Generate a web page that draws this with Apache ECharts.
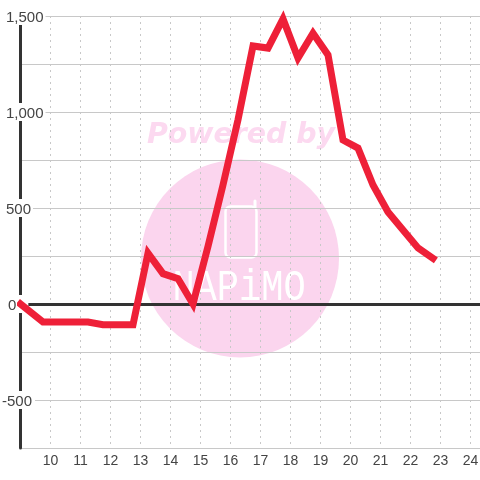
<!DOCTYPE html>
<html>
<head>
<meta charset="utf-8">
<style>html,body{margin:0;padding:0;background:#fff}#c{width:480px;height:480px}</style>
<script src="https://cdn.jsdelivr.net/npm/echarts@6/dist/echarts.min.js"></script>
</head>
<body>
<div id="c"></div>
<script>
var hours = [9, 9.75, 11.25, 11.75, 12.75, 13.25, 13.75, 14.25, 14.75, 15.25, 15.75, 16.25, 16.75, 17.25, 17.75, 18.25, 18.75, 19.25, 19.75, 20.25, 20.75, 21.25, 21.75, 22.25, 22.75];
var values = [0, -94, -94, -108, -108, 265, 158, 132, 0, 300, 620, 960, 1344, 1333, 1485, 1281, 1410, 1297, 854, 812, 620, 479, 385, 292, 238];
var xTickLabels = [10, 11, 12, 13, 14, 15, 16, 17, 18, 19, 20, 21, 22, 23, 24];
var yTickLabels = { '1500': '1,500', '1000': '1,000', '500': '500', '0': '0', '-500': '-500' };

var chart = echarts.init(document.getElementById('c'), null, { renderer: 'canvas' });
var font = '"Liberation Sans", Arial, sans-serif';
var wm = '#fbd5ee';
var xMin = 9, xMax = 24.3333;

function styleFor(v) {
  if (v === 0) return 'z';
  if (v < 0) return 'n';
  return 'h';
}
var richBase = { color: '#444', fontSize: 15, fontFamily: font, backgroundColor: '#fff', lineHeight: 16 };

chart.setOption({
  animation: false,
  backgroundColor: '#fff',
  grid: { left: 20.5, right: -0.5, top: 16, bottom: 32, outerBoundsMode: 'none' },
  graphic: [
    { type: 'circle', z: -1, shape: { cx: 240, cy: 258.5, r: 99 }, style: { fill: wm } },
    { type: 'text', z: -1, x: 241, y: 136, style: { text: 'Powered by', fill: '#fcd9f0', font: 'italic bold 28.4px "DejaVu Sans"', align: 'center', verticalAlign: 'middle' } },
    { type: 'rect', z: -1, shape: { x: 225.5, y: 206.5, width: 31, height: 51, r: 5 }, style: { fill: 'none', stroke: '#fff', lineWidth: 2.5 } },
    { type: 'line', z: -1, shape: { x1: 255, y1: 207, x2: 255, y2: 201 }, style: { stroke: '#fff', lineWidth: 3, lineCap: 'round' } },
    { type: 'text', z: -1, x: 239, y: 288.5, scaleY: 1.2, style: { text: 'NAPiMO', fill: '#fff', font: '37px "Liberation Mono"', align: 'center', verticalAlign: 'middle' } }
  ],
  xAxis: [
    {
      type: 'value', min: xMin, max: xMax, interval: 1, position: 'bottom', z: 0,
      axisLine: { onZero: false, show: false },
      axisTick: { show: false },
      splitLine: { show: true, lineStyle: { color: '#c8c8c8', type: [2, 4], width: 1 } },
      axisLabel: {
        color: '#444', fontSize: 14, fontFamily: font, margin: 6, showMinLabel: false, showMaxLabel: false,
        formatter: function (v) { return xTickLabels.indexOf(v) >= 0 ? String(v) : ''; }
      }
    },
    {
      type: 'value', min: xMin, max: xMax, interval: 1, position: 'top', z: 1,
      axisLine: { show: true, onZero: true, lineStyle: { color: '#333', width: 3 } },
      axisTick: { show: false }, axisLabel: { show: false }, splitLine: { show: false }
    }
  ],
  yAxis: [
    {
      type: 'value', min: -750, max: 1500, interval: 250, z: 0,
      axisLine: { show: false }, axisTick: { show: false }, axisLabel: { show: false },
      splitLine: { show: true, lineStyle: { color: '#c8c8c8', width: 1 } }
    },
    {
      type: 'value', min: -750, max: 1500, interval: 250, position: 'left', z: 3,
      axisLine: { show: true, onZero: false, lineStyle: { color: '#333', width: 3 } },
      axisTick: { show: false }, splitLine: { show: false },
      axisLabel: {
        align: 'left', margin: 18.5, showMinLabel: true, showMaxLabel: true,
        formatter: function (v) {
          var t = yTickLabels[String(v)];
          return t ? '{' + styleFor(v) + '|' + t + '}' : '';
        },
        rich: {
          h: Object.assign({}, richBase, { padding: [3, 2, 0, 4] }),
          z: Object.assign({}, richBase, { padding: [3, 12, 0, 6] }),
          n: Object.assign({}, richBase, { padding: [3, 3, 0, 0] })
        }
      }
    }
  ],
  series: [{
    type: 'line', xAxisIndex: 0, yAxisIndex: 0, z: 5, symbol: 'none', clip: false,
    data: hours.map(function (h, i) { return [h, values[i]]; }),
    lineStyle: { color: '#ee2038', width: 7, cap: 'square', join: 'miter', miterLimit: 10 }
  }]
});
</script>
</body>
</html>
